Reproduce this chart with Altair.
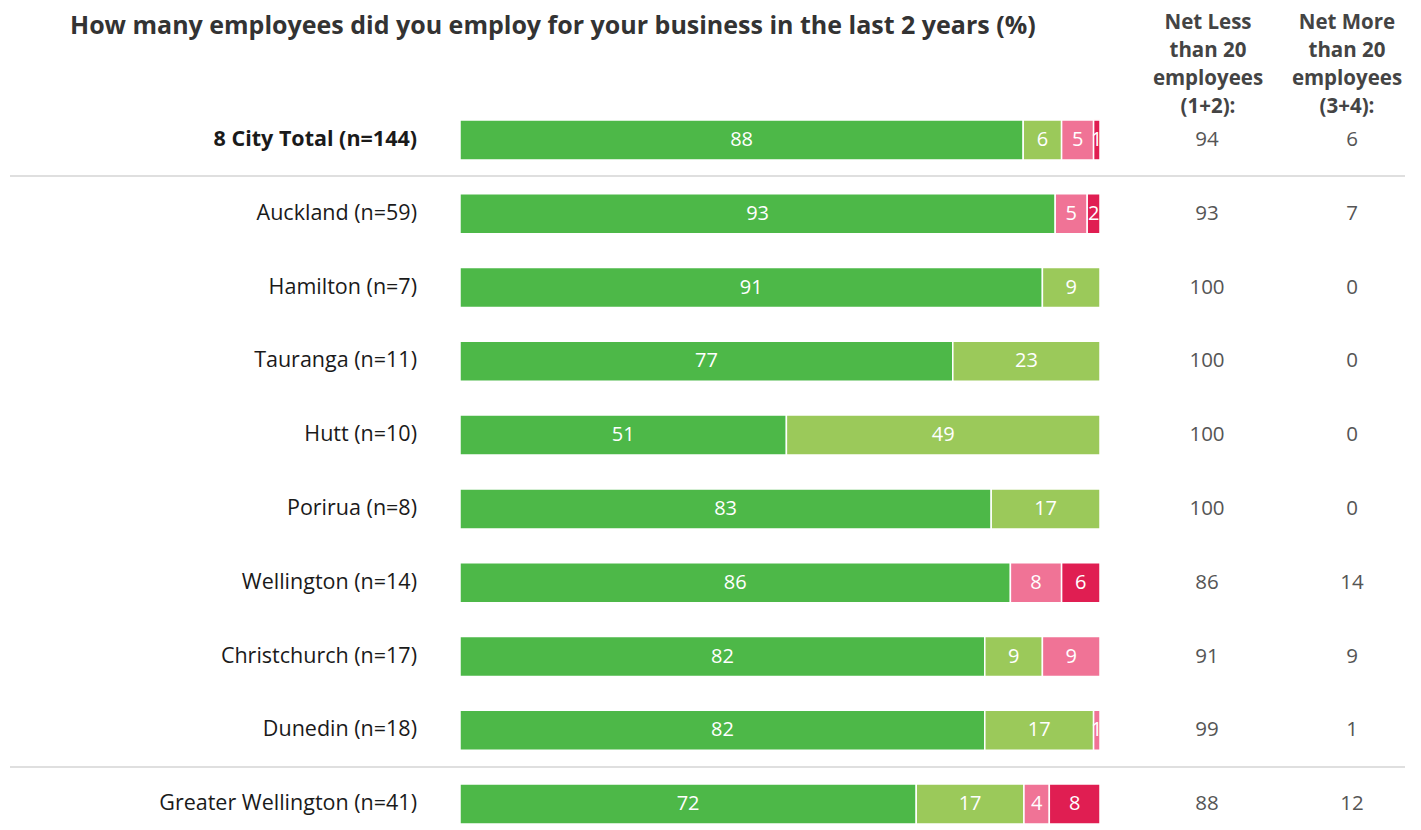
import altair as alt
import pandas as pd

rows = ["8 City Total (n=144)", "Auckland (n=59)", "Hamilton (n=7)", "Tauranga (n=11)",
        "Hutt (n=10)", "Porirua (n=8)", "Wellington (n=14)", "Christchurch (n=17)",
        "Dunedin (n=18)", "Greater Wellington (n=41)"]
seg1 = [88, 93, 91, 77, 51, 83, 86, 82, 82, 72]
seg2 = [6, 0, 9, 23, 49, 17, 0, 9, 17, 17]
seg3 = [5, 5, 0, 0, 0, 0, 8, 9, 1, 4]
seg4 = [1, 2, 0, 0, 0, 0, 6, 0, 0, 8]
net_less = [94, 93, 100, 100, 100, 100, 86, 91, 99, 88]
net_more = [6, 7, 0, 0, 0, 0, 14, 9, 1, 12]
segments = ["1", "2", "3", "4"]
colors = ["#4db848", "#9bc95a", "#f07396", "#e01e52"]

FONT = "Open Sans"
long = []
for i, r in enumerate(rows):
    for k, vals in enumerate([seg1, seg2, seg3, seg4]):
        if vals[i] > 0:
            long.append({"row": r, "seg": segments[k], "order": k, "value": vals[i]})
bars_df = pd.DataFrame(long)
net_df = pd.DataFrame({"row": rows, "less": net_less, "more": net_more,
                       "idx": list(range(len(rows)))})

yscale = alt.Scale(domain=rows, range=[95, 833], paddingInner=0.458, paddingOuter=0.229)
Y = alt.Y("row:N", scale=yscale, axis=None, sort=rows)
xscale = alt.Scale(domain=[0, 1], range=[452, 1092])

stacked = alt.Chart(bars_df).transform_stack(
    stack="value", groupby=["row"], as_=["x0", "x1"], offset="normalize",
    sort=[alt.SortField("order", order="ascending")]
).transform_calculate(mid="(datum.x0 + datum.x1) / 2")

bars = stacked.mark_bar(stroke="white", strokeWidth=1.5).encode(
    x=alt.X("x0:Q", scale=xscale, axis=None),
    x2="x1:Q",
    y=Y,
    color=alt.Color("seg:N", scale=alt.Scale(domain=segments, range=colors), legend=None),
)
bar_text = stacked.mark_text(color="white", font=FONT, fontSize=20, baseline="middle").encode(
    x=alt.X("mid:Q", scale=xscale, axis=None),
    y=Y,
    text=alt.Text("value:Q"),
)

row_labels = alt.Chart(net_df).transform_filter("datum.idx > 0").mark_text(
    align="right", baseline="middle", font=FONT, fontSize=21.5, color="#1a1a1a").encode(
    x=alt.value(409), y=Y, text="row:N")
row_label_bold = alt.Chart(net_df).transform_filter("datum.idx == 0").mark_text(
    align="right", baseline="middle", font=FONT, fontSize=21.5, color="#1a1a1a",
    fontWeight="bold").encode(x=alt.value(409), y=Y, text="row:N")
less_text = alt.Chart(net_df).mark_text(align="center", baseline="middle", font=FONT,
                                       fontSize=20.5, color="#555").encode(
    x=alt.value(1199), y=Y, text="less:Q")
more_text = alt.Chart(net_df).mark_text(align="center", baseline="middle", font=FONT,
                                       fontSize=20.5, color="#555").encode(
    x=alt.value(1344), y=Y, text="more:Q")

hdr_df = pd.DataFrame({"t": [0]})
hdr1 = alt.Chart(hdr_df).mark_text(
    text=["Net Less", "than 20", "employees", "(1+2):"], align="center", baseline="alphabetic",
    font=FONT, fontSize=20.5, fontWeight="bold", color="#444", lineHeight=28
).encode(x=alt.value(1200), y=alt.value(21))
hdr2 = alt.Chart(hdr_df).mark_text(
    text=["Net More", "than 20", "employees", "(3+4):"], align="center", baseline="alphabetic",
    font=FONT, fontSize=20.5, fontWeight="bold", color="#444", lineHeight=28
).encode(x=alt.value(1339), y=alt.value(21))
title = alt.Chart(hdr_df).mark_text(
    text="How many employees did you employ for your business in the last 2 years (%)",
    align="left", baseline="alphabetic", font=FONT, fontSize=25, fontWeight="bold", color="#333"
).encode(x=alt.value(62), y=alt.value(25.5))

sep_df = pd.DataFrame({"ypos": [168, 759]})
seps = alt.Chart(sep_df).mark_rule(color="#c0c0c0", strokeWidth=1.2).encode(
    x=alt.value(2), x2=alt.value(1397), y=alt.Y("ypos:Q", scale=None))

chart = alt.layer(seps, bars, bar_text, row_labels, row_label_bold, less_text, more_text,
                  hdr1, hdr2, title).properties(
    width=1405, height=818, autosize="none", padding=0
).configure_view(stroke=None)

chart.save("out.html", embed_options={"renderer": "svg", "actions": False})
